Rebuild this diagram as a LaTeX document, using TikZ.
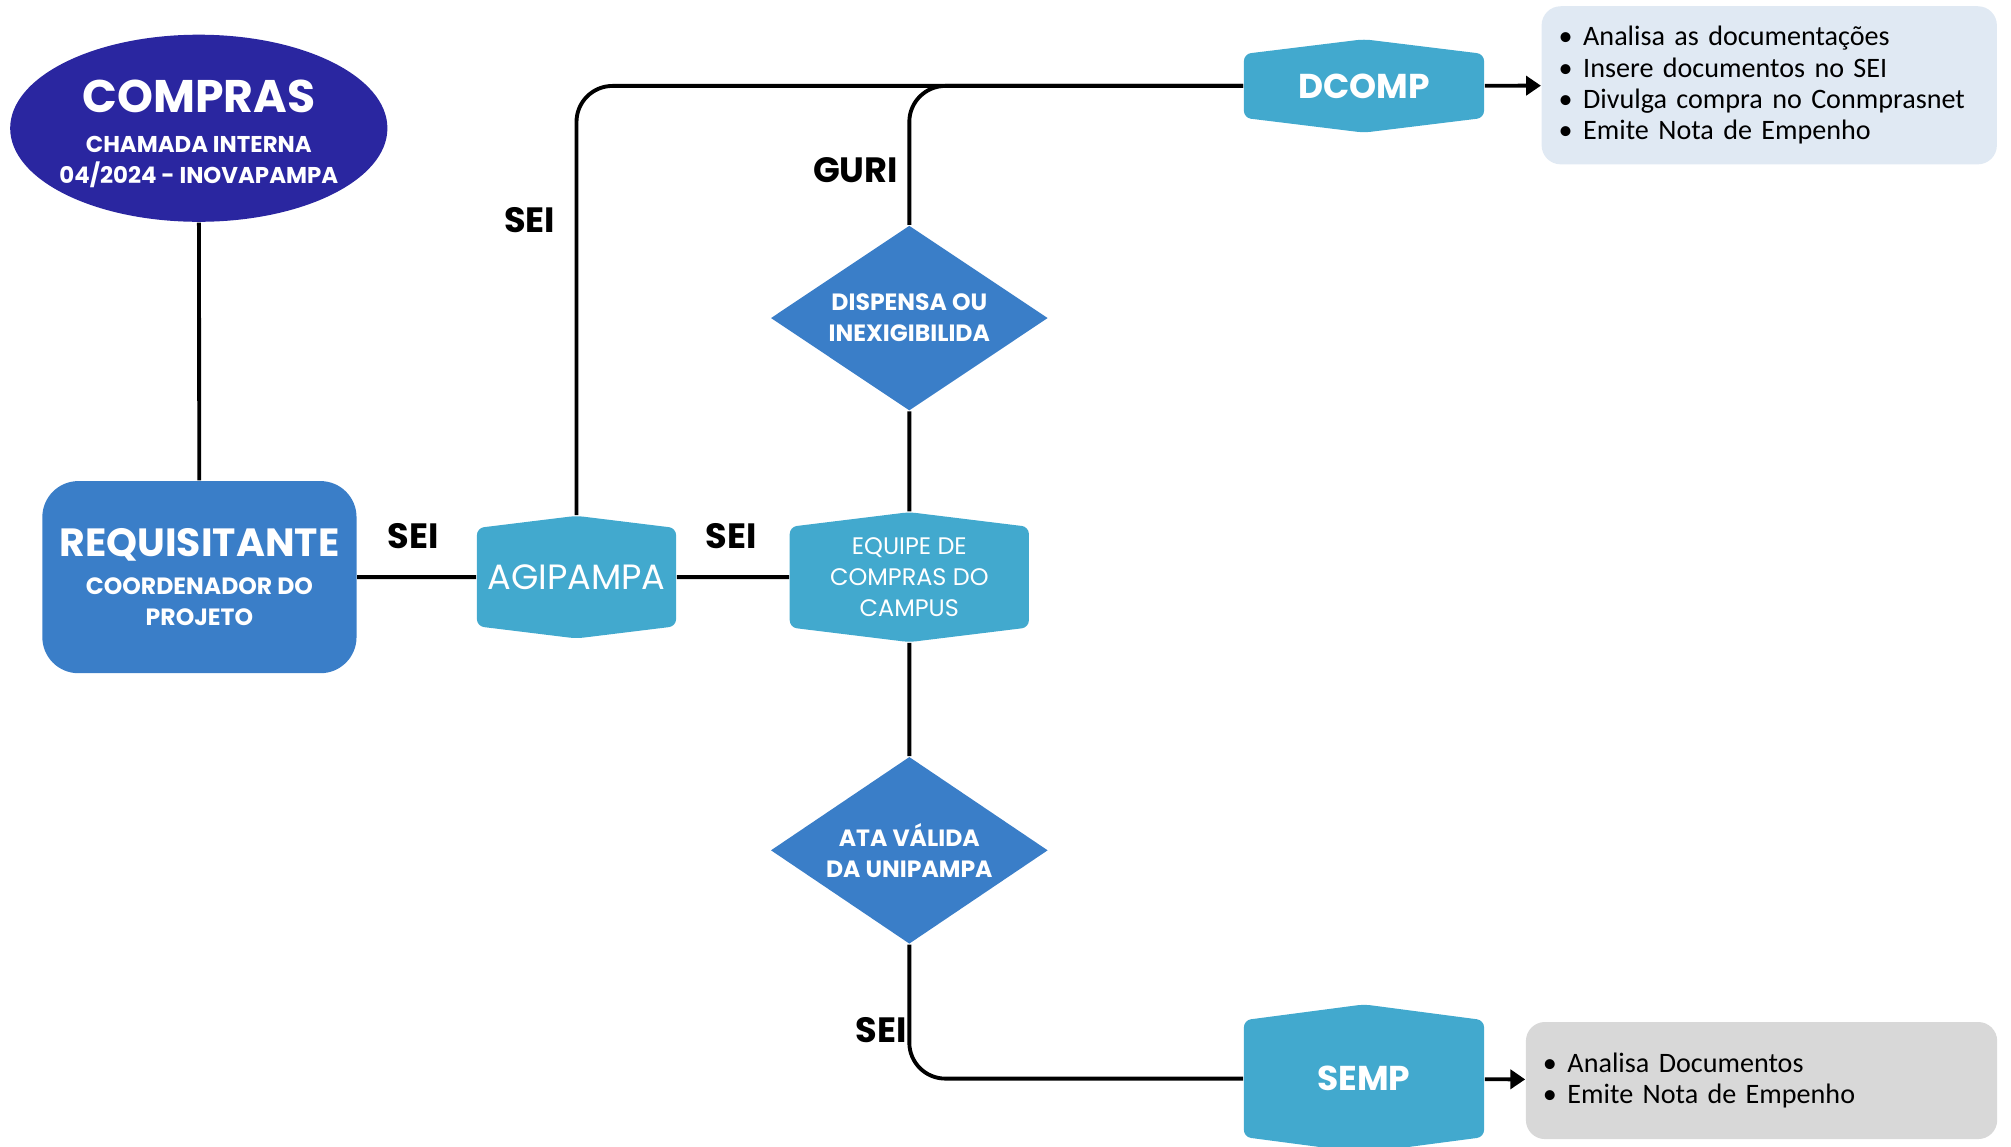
\documentclass[tikz,border=0pt]{standalone}
\usepackage{fontspec}
\setmainfont{Poppins}
\newfontfamily\listfont{Carlito}
\usepackage{tikz}
\usetikzlibrary{arrows.meta,shapes.geometric,shapes.symbols}

\definecolor{navy}{RGB}{42,38,160}
\definecolor{midblue}{RGB}{58,126,200}
\definecolor{seablue}{RGB}{66,169,206}
\definecolor{paleblue}{RGB}{224,233,243}
\definecolor{palegray}{RGB}{216,216,216}

\begin{document}
\begin{tikzpicture}[
        x=0.012825cm, y=-0.012825cm,
        conn/.style={line width=1.1pt, black},
        arrow line/.style={conn, -{Triangle[length=4.2pt,width=5.4pt]}},
        flow tag/.style={font=\bfseries\fontsize{10}{10}\selectfont, inner sep=0pt},
        start/.style={ellipse, fill=navy, text=white, inner xsep=-0.15cm, inner ysep=0pt,
            minimum width=3.77cm, minimum height=1.87cm, align=center},
        actor/.style={rectangle, rounded corners=0.36cm, fill=midblue, text=white,
            inner sep=0pt, minimum width=3.14cm, minimum height=1.92cm, align=center},
        hexbox/.style={signal, signal to=north and south, signal pointer angle=166,
            rounded corners=2pt, fill=seablue, text=white, inner sep=0pt, align=center},
        decision/.style={diamond, aspect=1.5, fill=midblue, text=white, inner sep=0pt,
            align=center, font=\bfseries\fontsize{6.7}{8.8}\selectfont},
        list box/.style={rectangle, rounded corners=0.19cm, inner xsep=0.17cm,
            inner ysep=0pt, text width=4.21cm, align=left,
            font=\listfont\fontsize{8}{8.9}\selectfont},
    ]
    \useasboundingbox (0,0) rectangle (1568,894);

    % start and requester
    \node[start, font=\bfseries\fontsize{6.5}{8.8}\selectfont] (compras) at (155,100)
        {\rule{0pt}{12.5pt}{\fontsize{13}{13}\selectfont COMPRAS}\\[2.4pt]
         CHAMADA INTERNA\\ 04/2024 - INOVAPAMPA};
    \node[actor, font=\bfseries\fontsize{6.7}{8.8}\selectfont] (req) at (155.5,450)
        {{\fontsize{11.2}{11.2}\selectfont REQUISITANTE}\\[2pt]
         COORDENADOR DO\\ PROJETO};

    % sectors
    \node[hexbox, minimum width=1.99cm, minimum height=1.2cm,
        font=\fontsize{10}{10}\selectfont] (agi) at (449.5,450) {AGIPAMPA};
    \node[hexbox, minimum width=2.39cm, minimum height=1.2cm,
        font=\fontsize{6.8}{8.8}\selectfont] (equipe) at (709,450)
        {EQUIPE DE\\ COMPRAS DO\\ CAMPUS};
    \node[hexbox, minimum width=2.4cm, minimum height=0.8cm,
        font=\bfseries\fontsize{9.8}{10}\selectfont] (dcomp) at (1063.5,67) {DCOMP};
    \node[hexbox, signal pointer angle=165, minimum width=2.4cm, minimum height=1.29cm,
        font=\bfseries\fontsize{9.8}{10}\selectfont] (semp) at (1063.5,841) {SEMP};

    % decisions
    \node[decision, minimum width=2.77cm, minimum height=1.85cm] (disp) at (709,248)
        {DISPENSA OU\\ INEXIGIBILIDA};
    \node[decision, minimum width=2.77cm, minimum height=1.87cm] (ata) at (709,663)
        {ATA VÁLIDA\\ DA UNIPAMPA};

    % task lists
    \node[list box, fill=paleblue, minimum height=1.58cm] (dlist) at (1379.5,66.5)
        {\textbullet\hspace{3pt}Analisa as documentações\\
         \textbullet\hspace{3pt}Insere documentos no SEI\\
         \textbullet\hspace{3pt}Divulga compra no Conmprasnet\\
         \textbullet\hspace{3pt}Emite Nota de Empenho};
    \node[list box, fill=palegray, text width=4.37cm, minimum height=1.17cm] (slist)
        at (1373.5,842.5)
        {\textbullet\hspace{3pt}Analisa Documentos\\
         \textbullet\hspace{3pt}Emite Nota de Empenho};

    % connectors
    \draw[conn] (compras) -- (req);
    \draw[conn] (req) -- (agi);
    \draw[conn] (agi) -- (equipe);
    \draw[conn] (equipe) -- (disp);
    \draw[conn] (equipe) -- (ata);
    \draw[conn, rounded corners=0.36cm] (agi.north) |- (dcomp.west);
    \draw[conn, rounded corners=0.36cm] (disp.north) |- (dcomp.west);
    \draw[conn, rounded corners=0.36cm] (ata.south) |- (semp.west);
    \draw[arrow line] (dcomp) -- (dlist);
    \draw[arrow line] (semp) -- (slist);

    % labels
    \node[flow tag] (sei1) at (322,418) {SEI};
    \node[flow tag] (sei2) at (570,418) {SEI};
    \node[flow tag] (sei3) at (413,172) {SEI};
    \node[flow tag] (guri) at (667,133) {GURI};
    \node[flow tag] (sei4) at (687,803) {SEI};
\end{tikzpicture}
\end{document}
